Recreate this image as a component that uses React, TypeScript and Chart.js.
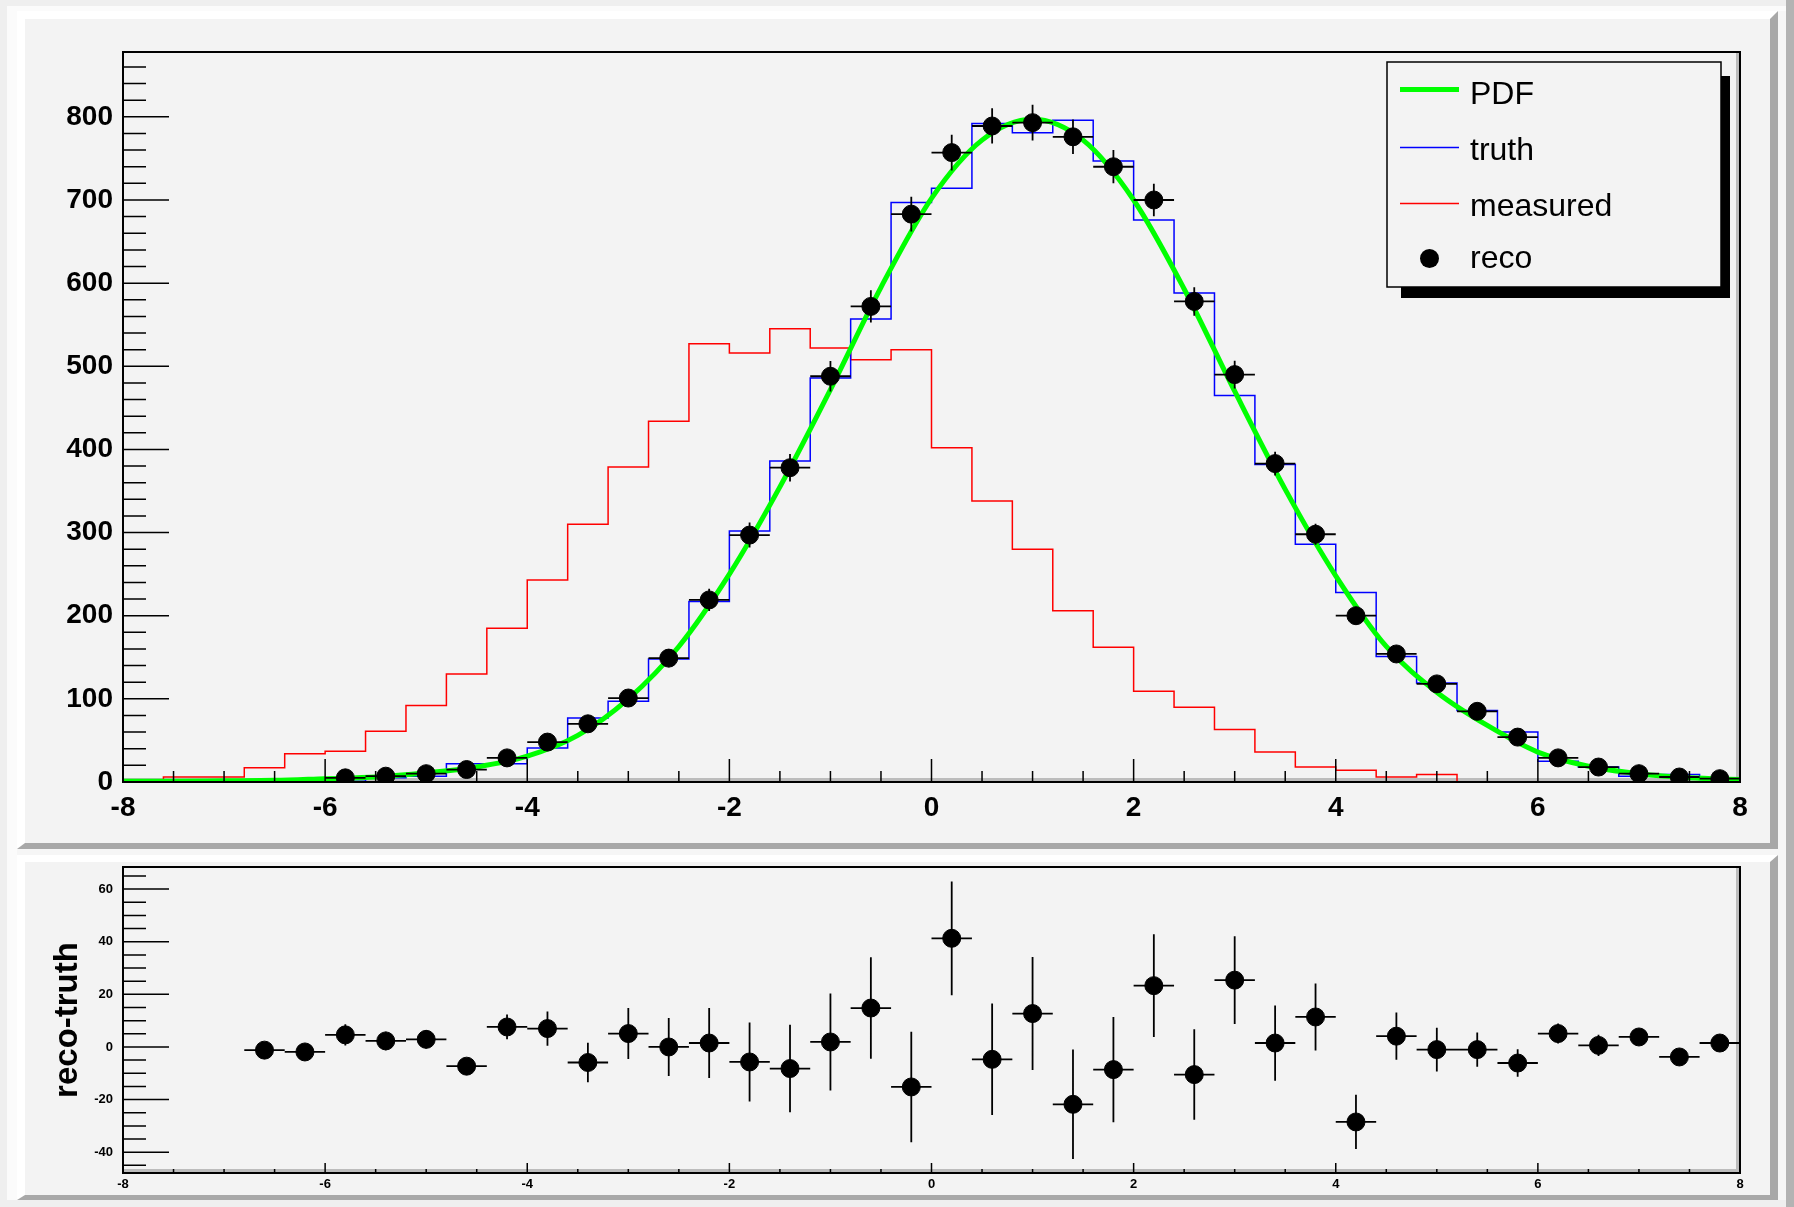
import React, { useEffect, useRef } from 'react';
import { Chart, registerables } from 'chart.js';

Chart.register(...registerables);

const FONT = '"Liberation Sans", Arial, Helvetica, sans-serif';

// ---- data ----
const binEdges = [-8, -7.6, -7.2, -6.8, -6.4, -6, -5.6, -5.2, -4.8, -4.4, -4, -3.6, -3.2, -2.8, -2.4, -2, -1.6, -1.2, -0.8, -0.4, 0, 0.4, 0.8, 1.2, 1.6, 2, 2.4, 2.8, 3.2, 3.6, 4, 4.4, 4.8, 5.2, 5.6, 6, 6.4, 6.8, 7.2, 7.6, 8];
const measured = [2, 6, 6, 17, 34, 37, 61, 92, 130, 185, 243, 310, 379, 434, 527, 516, 545, 522, 508, 520, 402, 338, 280, 206, 162, 109, 90, 63, 36, 18, 14, 6, 9, 0, 0, 0, 0, 0, 0, 0];
const truth = [0, 0, 0, 1, 2, 1, 5, 7, 22, 22, 41, 77, 97, 148, 217, 302, 386, 486, 557, 697, 714, 792, 781, 796, 747, 676, 588, 465, 382, 286, 228, 151, 119, 86, 60, 25, 18, 7, 9, 3];
const recoX = [-6.6, -6.2, -5.8, -5.4, -5, -4.6, -4.2, -3.8, -3.4, -3, -2.6, -2.2, -1.8, -1.4, -1, -0.6, -0.2, 0.2, 0.6, 1, 1.4, 1.8, 2.2, 2.6, 3, 3.4, 3.8, 4.2, 4.6, 5, 5.4, 5.8, 6.2, 6.6, 7, 7.4, 7.8];
const reco = [null, null, 5, 7, 10, 15, 29, 48, 70, 101, 149, 219, 297, 378, 488, 572, 683, 757, 789, 793, 776, 740, 700, 578, 490, 383, 298, 200, 154, 118, 85, 54, 29, 18, 10, 6, 4];
const recoErr = [3, 3, 4, 3.5, 3.5, 3, 4.7, 6.5, 7.5, 9.7, 11, 13.3, 15, 16.6, 18.4, 19.3, 21, 21.6, 21.2, 21.5, 20.8, 20, 19.5, 17.2, 16.7, 14.3, 12.7, 10.3, 9, 8.3, 6.5, 5.2, 3.8, 4, 3, 3, 3];
const recoMinusTruth = [-1.2, -1.9, 4.6, 2.3, 2.9, -7.3, 7.6, 7.0, -5.9, 5.1, 0, 1.5, -5.7, -8.2, 1.9, 14.8, -15.2, 41.3, -4.7, 12.7, -21.8, -8.6, 23.3, -10.5, 25.4, 1.5, 11.4, -28.5, 4.1, -1.0, -1.0, -6.1, 5.1, 0.6, 3.8, -3.8, 1.5];
const pdfX = [-8, -7.5, -7, -6.5, -6, -5.5, -5, -4.5, -4, -3.5, -3, -2.5, -2, -1.5, -1, -0.5, 0, 0.5, 1, 1.5, 2, 2.5, 3, 3.5, 4, 4.5, 5, 5.5, 6, 6.5, 7, 7.5, 8];
const pdfY = [1, 1, 1.5, 2, 4, 6, 11, 18, 31, 56, 100, 163, 250, 355, 472, 595, 702, 772, 797, 772, 700, 593, 470, 352, 248, 163, 108, 68, 36, 19, 10, 5, 3];
const xTickLabels = [-8, -6, -4, -2, 0, 2, 4, 6, 8];
const topYTickLabels = [0, 100, 200, 300, 400, 500, 600, 700, 800];
const bottomYTickLabels = [-40, -20, 0, 20, 40, 60];
const legendLabels = ['PDF', 'truth', 'measured', 'reco'];

const histPoints = (vals: number[]) =>
  binEdges.map((e, i) => ({ x: e, y: vals[Math.min(i, vals.length - 1)] }));

// ---- plugins ----
const rootAxes = {
  id: 'rootAxes',
  beforeDatasetsDraw(chart: any, _a: any, o: any) {
    const { ctx, chartArea: a } = chart;
    ctx.save();
    ctx.fillStyle = '#bcbcbc';
    ctx.fillRect(a.left, a.bottom - o.bevel, a.right - a.left, o.bevel);
    ctx.fillRect(a.right - o.bevel, a.top, o.bevel, a.bottom - a.top);
    ctx.restore();
  },
  afterDatasetsDraw(chart: any, _a: any, o: any) {
    const { ctx, chartArea: a, scales } = chart;
    const xs = scales.x;
    const ys = scales.y;
    const isMajor = (v: number, ticks: any[]) => ticks.some((t) => Math.abs(t.value - v) < 1e-6);
    ctx.save();
    ctx.strokeStyle = '#000';
    ctx.lineWidth = 1.5;
    ctx.beginPath();
    for (let k = Math.ceil(xs.min / o.xMinor - 1e-9); k * o.xMinor <= xs.max + 1e-9; k++) {
      const v = k * o.xMinor;
      const len = isMajor(v, xs.ticks) ? o.xMajorLen : o.xMinorLen;
      const px = xs.getPixelForValue(v);
      ctx.moveTo(px, a.bottom);
      ctx.lineTo(px, a.bottom - len);
    }
    for (let k = Math.ceil(ys.min / o.yMinor - 1e-9); k * o.yMinor <= ys.max + 1e-9; k++) {
      const v = k * o.yMinor;
      const len = isMajor(v, ys.ticks) ? o.yMajorLen : o.yMinorLen;
      const py = ys.getPixelForValue(v);
      ctx.moveTo(a.left, py);
      ctx.lineTo(a.left + len, py);
    }
    ctx.stroke();
    ctx.lineWidth = 2;
    ctx.strokeRect(a.left, a.top, a.right - a.left, a.bottom - a.top);
    ctx.restore();
  },
};

const errorBars = {
  id: 'errorBars',
  beforeDatasetDraw(chart: any, args: any) {
    const ds: any = chart.data.datasets[args.index];
    if (!ds.errY) return;
    const { ctx, scales } = chart;
    const xs = scales.x;
    const ys = scales.y;
    ctx.save();
    ctx.strokeStyle = '#000';
    ctx.lineWidth = 1.8;
    ctx.beginPath();
    ds.data.forEach((p: any, i: number) => {
      if (p.y === null || p.y === undefined) return;
      const px = xs.getPixelForValue(p.x);
      const py = ys.getPixelForValue(p.y);
      ctx.moveTo(xs.getPixelForValue(p.x - ds.errX), py);
      ctx.lineTo(xs.getPixelForValue(p.x + ds.errX), py);
      ctx.moveTo(px, ys.getPixelForValue(p.y - ds.errY[i]));
      ctx.lineTo(px, ys.getPixelForValue(p.y + ds.errY[i]));
    });
    ctx.stroke();
    ctx.restore();
  },
};

const rootLegend = {
  id: 'rootLegend',
  afterDraw(chart: any, _a: any, o: any) {
    if (!o || !o.show) return;
    const ctx = chart.ctx;
    const b = o.box;
    ctx.save();
    ctx.fillStyle = '#000';
    ctx.fillRect(o.shadow.left, o.shadow.top, o.shadow.right - o.shadow.left, o.shadow.bottom - o.shadow.top);
    ctx.fillStyle = '#f3f3f3';
    ctx.fillRect(b.left, b.top, b.right - b.left, b.bottom - b.top);
    ctx.strokeStyle = '#000';
    ctx.lineWidth = 1.5;
    ctx.strokeRect(b.left, b.top, b.right - b.left, b.bottom - b.top);
    ctx.font = `${o.fontSize}px ${FONT}`;
    ctx.textBaseline = 'alphabetic';
    ctx.textAlign = 'left';
    legendLabels.forEach((lab, i) => {
      const ds: any = chart.data.datasets.find((d: any) => d.label === lab);
      const row = o.rows[i];
      if (ds.showLine === false) {
        ctx.fillStyle = '#000';
        ctx.beginPath();
        ctx.arc((o.lineX0 + o.lineX1) / 2, row.mark, 9.5, 0, Math.PI * 2);
        ctx.fill();
      } else {
        ctx.strokeStyle = ds.borderColor;
        ctx.lineWidth = ds.legendWidth || ds.borderWidth;
        ctx.beginPath();
        ctx.moveTo(o.lineX0, row.mark);
        ctx.lineTo(o.lineX1, row.mark);
        ctx.stroke();
      }
      ctx.fillStyle = '#000';
      ctx.fillText(lab, o.textX, row.base);
    });
    ctx.restore();
  },
};

const tickFont = (size: number) => ({ family: FONT, size, weight: 'bold' as const });

export default function App() {
  const topRef = useRef<HTMLCanvasElement>(null);
  const botRef = useRef<HTMLCanvasElement>(null);

  useEffect(() => {
    const topChart = new Chart(topRef.current as HTMLCanvasElement, {
      type: 'scatter',
      data: {
        datasets: [
          {
            label: 'reco',
            data: recoX.map((x, i) => ({ x, y: reco[i] })),
            showLine: false,
            pointRadius: 9,
            pointHoverRadius: 9,
            backgroundColor: '#000',
            borderColor: '#000',
            pointBorderWidth: 1,
            order: 0,
            errY: recoErr,
            errX: 0.2,
          } as any,
          {
            label: 'PDF',
            type: 'line',
            data: pdfX.map((x, i) => ({ x, y: pdfY[i] })),
            borderColor: '#00ff00',
            borderWidth: 5,
            legendWidth: 5,
            pointRadius: 0,
            cubicInterpolationMode: 'monotone',
            fill: false,
            order: 1,
          } as any,
          {
            label: 'truth',
            type: 'line',
            data: histPoints(truth),
            stepped: true,
            borderColor: '#0000ff',
            borderWidth: 1.5,
            pointRadius: 0,
            fill: false,
            order: 2,
          } as any,
          {
            label: 'measured',
            type: 'line',
            data: histPoints(measured),
            stepped: true,
            borderColor: '#ff0000',
            borderWidth: 1.5,
            pointRadius: 0,
            fill: false,
            order: 3,
          } as any,
        ],
      },
      options: {
        animation: false,
        responsive: false,
        devicePixelRatio: 1,
        events: [],
        layout: { padding: { left: 0, top: 52, right: 54, bottom: 0 } },
        scales: {
          x: {
            type: 'linear',
            min: -8,
            max: 8,
            bounds: 'data',
            afterBuildTicks: (s: any) => { s.ticks = xTickLabels.map((v) => ({ value: v })); },
            afterFit: (s: any) => { s.height = 67; },
            grid: { display: false, drawTicks: false },
            border: { display: false },
            ticks: { autoSkip: false, maxRotation: 0, padding: 9, color: '#000', font: tickFont(28), callback: (v: any) => String(v) },
          },
          y: {
            type: 'linear',
            min: 0,
            max: 878,
            bounds: 'data',
            afterBuildTicks: (s: any) => { s.ticks = topYTickLabels.map((v) => ({ value: v })); },
            afterFit: (s: any) => { s.width = 123; },
            grid: { display: false, drawTicks: false },
            border: { display: false },
            ticks: { autoSkip: false, padding: 10, color: '#000', font: tickFont(28), callback: (v: any) => String(v) },
          },
        },
        plugins: {
          legend: { display: false },
          tooltip: { enabled: false },
          rootAxes: { bevel: 4, xMinor: 0.5, xMajorLen: 23, xMinorLen: 11, yMinor: 20, yMajorLen: 46, yMinorLen: 23 },
          rootLegend: {
            show: true,
            box: { left: 1387, top: 62, right: 1721, bottom: 287 },
            shadow: { left: 1401, top: 76, right: 1730, bottom: 298 },
            lineX0: 1400,
            lineX1: 1459,
            textX: 1470,
            fontSize: 32,
            rows: [
              { mark: 89.5, base: 104 },
              { mark: 147.5, base: 160 },
              { mark: 203.5, base: 216 },
              { mark: 258.5, base: 268 },
            ],
          },
        } as any,
      },
      plugins: [rootAxes, errorBars, rootLegend],
    } as any);

    const botChart = new Chart(botRef.current as HTMLCanvasElement, {
      type: 'scatter',
      data: {
        datasets: [
          {
            label: 'reco-truth',
            data: recoX.map((x, i) => ({ x, y: recoMinusTruth[i] })),
            showLine: false,
            pointRadius: 9,
            pointHoverRadius: 9,
            backgroundColor: '#000',
            borderColor: '#000',
            pointBorderWidth: 1,
            errY: recoErr,
            errX: 0.2,
          } as any,
        ],
      },
      options: {
        animation: false,
        responsive: false,
        devicePixelRatio: 1,
        events: [],
        layout: { padding: { left: 0, top: 18, right: 54, bottom: 0 } },
        scales: {
          x: {
            type: 'linear',
            min: -8,
            max: 8,
            bounds: 'data',
            afterBuildTicks: (s: any) => { s.ticks = xTickLabels.map((v) => ({ value: v })); },
            afterFit: (s: any) => { s.height = 34; },
            grid: { display: false, drawTicks: false },
            border: { display: false },
            ticks: { autoSkip: false, maxRotation: 0, padding: 4, color: '#000', font: tickFont(13), callback: (v: any) => String(v) },
          },
          y: {
            type: 'linear',
            min: -47.9,
            max: 68.4,
            bounds: 'data',
            afterBuildTicks: (s: any) => { s.ticks = bottomYTickLabels.map((v) => ({ value: v })); },
            afterFit: (s: any) => { s.width = 123; },
            grid: { display: false, drawTicks: false },
            border: { display: false },
            title: { display: true, text: 'reco-truth', color: '#000', font: { family: FONT, size: 33, weight: 'bold' }, padding: { top: 48, bottom: 0 } },
            ticks: { autoSkip: false, padding: 10, color: '#000', font: tickFont(13), callback: (v: any) => String(v) },
          },
        },
        plugins: {
          legend: { display: false },
          tooltip: { enabled: false },
          rootAxes: { bevel: 4, xMinor: 0.5, xMajorLen: 10, xMinorLen: 4, yMinor: 5, yMajorLen: 46, yMinorLen: 23 },
          rootLegend: { show: false },
        } as any,
      },
      plugins: [rootAxes, errorBars],
    } as any);

    return () => {
      topChart.destroy();
      botChart.destroy();
    };
  }, []);

  const padBase: React.CSSProperties = { position: 'absolute', boxSizing: 'border-box', background: '#f3f3f3' };

  return (
    <div style={{ position: 'absolute', left: 0, top: 0, width: 1794, height: 1207, background: '#efefef', overflow: 'hidden' }}>
      <div style={{ ...padBase, left: 7, top: 6, width: 1779, height: 1194, background: '#f6f6f6', borderLeft: '10px solid #fbfbfb', borderTop: '5px solid #fbfbfb' }} />
      <div style={{ position: 'absolute', left: 1786, top: 0, width: 8, height: 1207, background: '#b3b3b3' }} />
      <div style={{ ...padBase, left: 17, top: 11, width: 1761, height: 838, borderTop: '8px solid #ffffff', borderLeft: '8px solid #ffffff', borderRight: '8px solid #a8a8a8', borderBottom: '6px solid #a8a8a8' }} />
      <div style={{ ...padBase, left: 17, top: 855, width: 1761, height: 345, borderTop: '7px solid #ffffff', borderLeft: '8px solid #ffffff', borderRight: '8px solid #a8a8a8', borderBottom: '5px solid #a8a8a8' }} />
      <canvas ref={topRef} width={1794} height={849} style={{ position: 'absolute', left: 0, top: 0, width: 1794, height: 849 }} />
      <canvas ref={botRef} width={1794} height={358} style={{ position: 'absolute', left: 0, top: 849, width: 1794, height: 358 }} />
    </div>
  );
}
